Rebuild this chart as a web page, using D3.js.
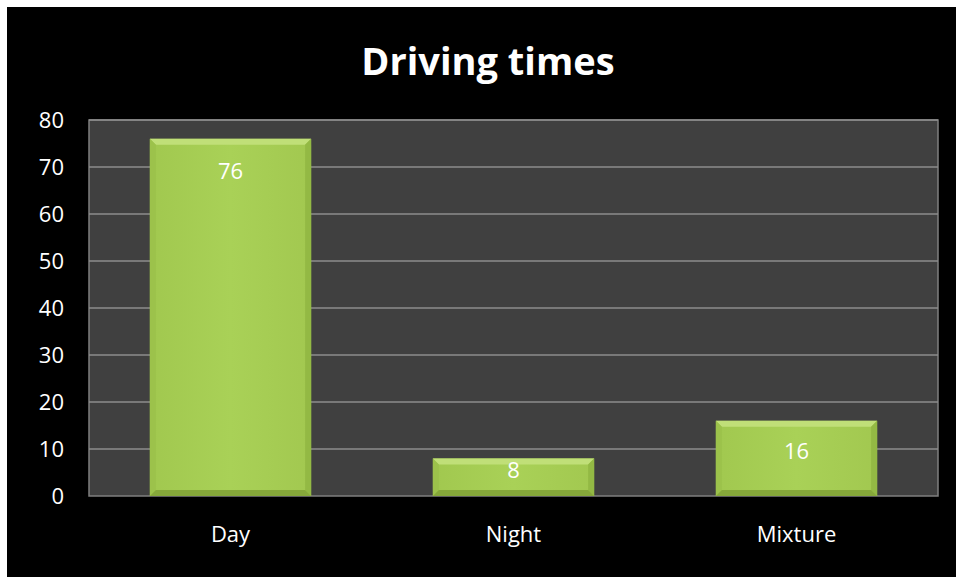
<!DOCTYPE html>
<html><head><meta charset="utf-8">
<script src="https://cdn.jsdelivr.net/npm/d3@7"></script>
<style>html,body{margin:0;padding:0;background:#fff;}svg{display:block;}</style>
</head><body>
<svg id="c" width="956" height="577"></svg>
<script>
const categories = ["Day", "Night", "Mixture"];
const values = [76, 8, 16];
const yTicks = [0, 10, 20, 30, 40, 50, 60, 70, 80];
const title = "Driving times";

const svg = d3.select("#c");
const font = "'Open Sans', 'Liberation Sans', sans-serif";
svg.append("rect").attr("x", 7).attr("y", 7).attr("width", 949).attr("height", 570).attr("fill", "#000");

const m = {l: 89, r: 938, t: 120, b: 496};
const x = d3.scaleBand().domain(categories).range([m.l, m.r]).paddingInner(0.43).paddingOuter(0.215);
const y = d3.scaleLinear().domain([0, 80]).range([m.b, m.t]);

const defs = svg.append("defs");
const g1 = defs.append("linearGradient").attr("id", "gf").attr("x1", 0).attr("x2", 1).attr("y1", 0).attr("y2", 0);
g1.append("stop").attr("offset", "0").attr("stop-color", "#a1c84f");
g1.append("stop").attr("offset", "0.5").attr("stop-color", "#a9d157");
g1.append("stop").attr("offset", "1").attr("stop-color", "#a2c850");

svg.append("rect").attr("x", m.l).attr("y", m.t).attr("width", m.r - m.l).attr("height", m.b - m.t)
  .attr("fill", "#404040").attr("stroke", "#7f7f7f").attr("stroke-width", 1.5);

svg.append("g").selectAll("line").data(yTicks.filter(d => d > 0)).join("line")
  .attr("x1", m.l).attr("x2", m.r).attr("y1", d => y(d)).attr("y2", d => y(d))
  .attr("stroke", "#8c8c8c").attr("stroke-width", 1.5);

const yAxis = d3.axisLeft(y).tickValues(yTicks).tickSize(0).tickPadding(25);
const ya = svg.append("g").attr("transform", `translate(${m.l},0)`).call(yAxis);
ya.select(".domain").remove();
ya.selectAll("text").attr("fill", "#fff").attr("font-size", 22).attr("font-family", font);

const xAxis = d3.axisBottom(x).tickSize(0).tickPadding(30);
const xa = svg.append("g").attr("transform", `translate(0,${m.b})`).call(xAxis);
xa.select(".domain").remove();
xa.selectAll("text").attr("fill", "#fff").attr("font-size", 22).attr("font-family", font);

const bars = svg.append("g").selectAll("g").data(categories.map((c, i) => ({c, v: values[i]}))).join("g");
const bev = 6;
bars.each(function(d) {
  const g = d3.select(this);
  const x0 = x(d.c), w = x.bandwidth(), y0 = y(d.v), y1 = y(0), h = y1 - y0;
  g.append("rect").attr("x", x0).attr("y", y0).attr("width", w).attr("height", h).attr("fill", "url(#gf)");
  g.append("polygon").attr("points", [[x0, y0], [x0 + w, y0], [x0 + w - bev, y0 + bev], [x0 + bev, y0 + bev]].join(" ")).attr("fill", "#c0df78");
  g.append("polygon").attr("points", [[x0, y0], [x0 + bev, y0 + bev], [x0 + bev, y1 - bev], [x0, y1]].join(" ")).attr("fill", "#9cc24b");
  g.append("polygon").attr("points", [[x0 + w, y0], [x0 + w, y1], [x0 + w - bev, y1 - bev], [x0 + w - bev, y0 + bev]].join(" ")).attr("fill", "#93b944");
  g.append("polygon").attr("points", [[x0, y1], [x0 + bev, y1 - bev], [x0 + w - bev, y1 - bev], [x0 + w, y1]].join(" ")).attr("fill", "#86a83a");
  const cy = y0 + Math.min(32, h / 2 - 7);
  g.append("text").attr("x", x0 + w / 2).attr("y", cy).attr("dy", "0.35em").attr("text-anchor", "middle")
    .attr("fill", "#fff").attr("font-size", 22).attr("font-family", font).text(d.v);
});

svg.append("text").attr("x", 488).attr("y", 75).attr("text-anchor", "middle").attr("fill", "#fff")
  .attr("font-size", 38).attr("font-weight", "bold").attr("font-family", font).text(title);
</script>
</body></html>
